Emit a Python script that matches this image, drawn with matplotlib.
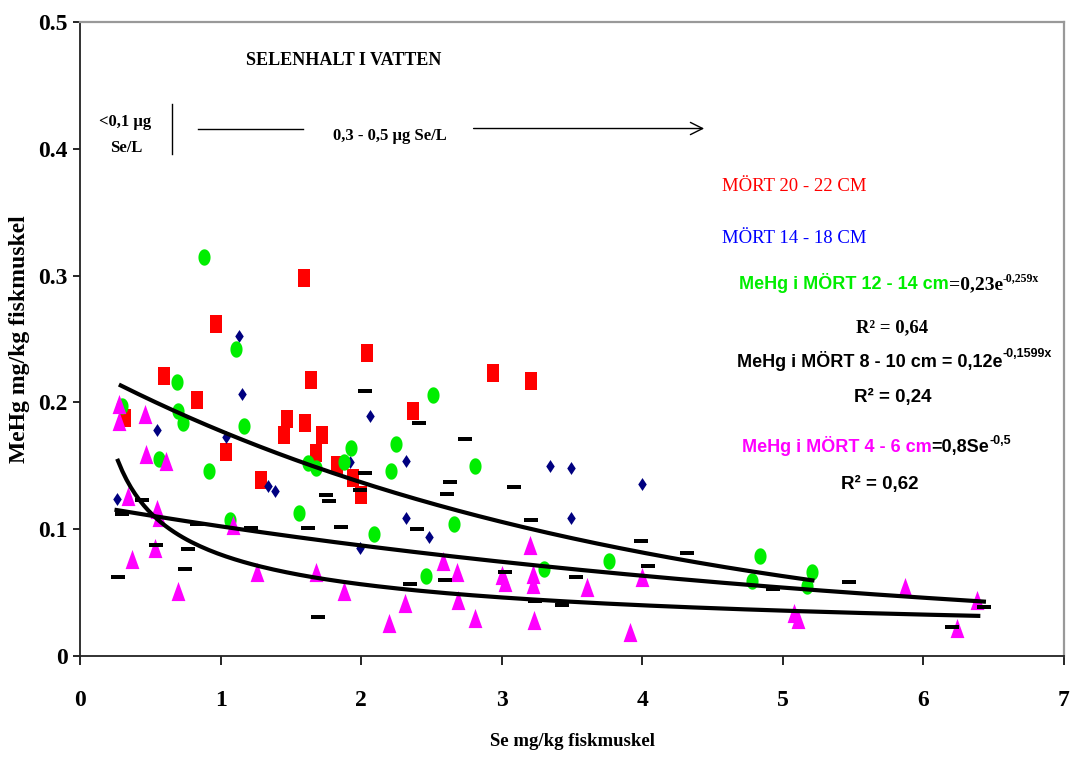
import numpy as np
import matplotlib
matplotlib.use("Agg")
import matplotlib.pyplot as plt

# MÖRT 20-22 cm (red squares)
red_x = [0.32, 0.60, 0.83, 0.97, 1.04, 1.29, 1.45, 1.47, 1.59, 1.60, 1.64, 1.68, 1.72, 1.83, 1.94, 2.00, 2.04, 2.37, 2.94, 3.21]
red_y = [0.188, 0.221, 0.202, 0.262, 0.161, 0.139, 0.174, 0.187, 0.298, 0.184, 0.218, 0.160, 0.174, 0.151, 0.140, 0.127, 0.239, 0.193, 0.223, 0.217]

# MÖRT 14-18 cm (navy diamonds)
navy_x = [0.26, 0.55, 1.04, 1.13, 1.15, 1.34, 1.39, 1.92, 1.99, 2.06, 2.32, 2.32, 2.48, 3.34, 3.49, 3.49, 4.00]
navy_y = [0.124, 0.178, 0.173, 0.252, 0.207, 0.134, 0.130, 0.153, 0.085, 0.189, 0.154, 0.109, 0.094, 0.150, 0.148, 0.109, 0.136]

# MÖRT 12-14 cm (green circles)
green_x = [0.30, 0.56, 0.69, 0.70, 0.73, 0.88, 0.92, 1.07, 1.11, 1.17, 1.56, 1.62, 1.68, 1.88, 1.93, 2.09, 2.21, 2.25,
           2.46, 2.51, 2.66, 2.81, 3.30, 3.76, 4.78, 4.84, 5.17, 5.21]
green_y = [0.197, 0.155, 0.216, 0.193, 0.184, 0.315, 0.146, 0.107, 0.242, 0.181, 0.113, 0.152, 0.148, 0.153, 0.164, 0.096, 0.146, 0.167,
           0.063, 0.206, 0.104, 0.150, 0.069, 0.075, 0.059, 0.079, 0.055, 0.0665]

# MÖRT 8-10 cm (black dashes)
black_x = [0.27, 0.30, 0.44, 0.54, 0.75, 0.77, 0.83, 1.22, 1.62, 1.69, 1.75, 1.77, 1.86, 1.99, 2.03, 2.03, 2.35, 2.40,
           2.41, 2.60, 2.61, 2.63, 2.74, 3.02, 3.09, 3.21, 3.24, 3.43, 3.53, 3.99, 4.04, 4.32, 4.93, 5.47, 6.20, 6.43]
black_y = [0.0625, 0.112, 0.123, 0.0875, 0.069, 0.084, 0.104, 0.101, 0.101, 0.031, 0.127, 0.122, 0.102, 0.131, 0.144, 0.209, 0.057, 0.100,
           0.184, 0.060, 0.128, 0.137, 0.171, 0.066, 0.133, 0.107, 0.043, 0.040, 0.062, 0.091, 0.071, 0.081, 0.053, 0.058, 0.023, 0.039]

# MÖRT 4-6 cm (magenta triangles)
mag_x = [0.28, 0.28, 0.34, 0.37, 0.46, 0.47, 0.53, 0.55, 0.56, 0.61, 0.70, 1.09, 1.26, 1.68, 1.88, 2.20, 2.31, 2.58,
         2.68, 2.69, 2.81, 3.00, 3.02, 3.20, 3.22, 3.22, 3.23, 3.61, 3.91, 4.00, 5.08, 5.11, 5.87, 6.24, 6.38]
mag_y = [0.199, 0.185, 0.126, 0.0765, 0.191, 0.159, 0.085, 0.116, 0.110, 0.154, 0.0515, 0.103, 0.066, 0.066, 0.0515, 0.026, 0.042, 0.075,
         0.0665, 0.044, 0.030, 0.064, 0.0586, 0.0875, 0.065, 0.0565, 0.028, 0.0547, 0.019, 0.0625, 0.034, 0.029, 0.0547, 0.022, 0.044]

# trendline equations from the chart
green_a, green_b, green_rng = 0.23, -0.259, (0.29, 5.21)
black_a, black_b, black_rng = 0.12, -0.1599, (0.26, 6.43)
mag_a, mag_p, mag_rng = 0.08, -0.5, (0.27, 6.39)

x_ticks = [0, 1, 2, 3, 4, 5, 6, 7]
y_ticks = [0, 0.1, 0.2, 0.3, 0.4, 0.5]
y_tick_labels = ["0", "0.1", "0.2", "0.3", "0.4", "0.5"]

SERIF = "Liberation Serif"
SANS = "Liberation Sans"

fig = plt.figure(figsize=(10.74, 7.6), dpi=100)
ax = fig.add_axes([80 / 1074, 104 / 760, 984 / 1074, 634 / 760])

# marker shapes (stretched like in the original)
rect = [(-0.34, -0.5), (0.34, -0.5), (0.34, 0.5), (-0.34, 0.5)]
t = np.linspace(0, 2 * np.pi, 40)
ellipse = list(zip(0.37 * np.cos(t), 0.5 * np.sin(t)))
diamond = [(0, -0.5), (0.33, 0), (0, 0.5), (-0.33, 0)]
tri = [(-0.36, -0.5), (0.36, -0.5), (0, 0.5)]
dash = [(-0.5, -0.15), (0.5, -0.15), (0.5, 0.15), (-0.5, 0.15)]

ax.plot(red_x, red_y, ls="none", marker=rect, ms=12.3, color="#ff0000", mew=0)
ax.plot(navy_x, navy_y, ls="none", marker=diamond, ms=9.3, color="#000080", mew=0)
ax.plot(green_x, green_y, ls="none", marker=ellipse, ms=11.8, color="#00ee00", mew=0)
ax.plot(mag_x, mag_y, ls="none", marker=tri, ms=13.8, color="#ff00ff", mew=0)
ax.plot(black_x, black_y, ls="none", marker=dash, ms=10, color="black", mew=0)

# trendlines
xg = np.linspace(*green_rng, 200)
ax.plot(xg, green_a * np.exp(green_b * xg), color="black", lw=3)
xb = np.linspace(*black_rng, 200)
ax.plot(xb, black_a * np.exp(black_b * xb), color="black", lw=3)
xm = np.linspace(*mag_rng, 200)
ax.plot(xm, mag_a * xm ** mag_p, color="black", lw=3)

ax.set_xlim(0, 7)
ax.set_ylim(0, 0.5)
ax.set_xticks(x_ticks)
ax.set_xticklabels([str(v) for v in x_ticks], fontfamily=SERIF, fontweight="bold", fontsize=17)
ax.set_yticks(y_ticks)
ax.set_yticklabels(y_tick_labels, fontfamily=SERIF, fontweight="bold", fontsize=17)
ax.tick_params(axis="x", direction="out", length=6.5, width=1.2, pad=18)
ax.tick_params(axis="y", direction="out", length=5, width=1.2, pad=4)
for side in ["left", "bottom"]:
    ax.spines[side].set_color("#222222")
    ax.spines[side].set_linewidth(1.3)
for side in ["top", "right"]:
    ax.spines[side].set_color("#999999")
    ax.spines[side].set_linewidth(1.6)

ax.set_xlabel("Se mg/kg fiskmuskel", fontfamily=SERIF, fontweight="bold", fontsize=13.5, labelpad=16)
ax.set_ylabel("MeHg mg/kg fiskmuskel", fontfamily=SERIF, fontweight="bold", fontsize=17, labelpad=6)

# selenium in water annotation
ax.text(1.18, 0.470, "SELENHALT I VATTEN", fontfamily=SERIF, fontweight="bold", fontsize=13, va="center", ha="left")
ax.text(0.32, 0.421, "<0,1 µg", fontfamily=SERIF, fontweight="bold", fontsize=12, va="center", ha="center")
ax.text(0.33, 0.401, "Se/L", fontfamily=SERIF, fontweight="bold", fontsize=12, va="center", ha="center")
ax.plot([0.654, 0.654], [0.396, 0.435], color="black", lw=1)
ax.plot([0.839, 1.586], [0.416, 0.416], color="black", lw=1)
ax.text(2.205, 0.410, "0,3 - 0,5 µg Se/L", fontfamily=SERIF, fontweight="bold", fontsize=12, va="center", ha="center")
ax.annotate("", xy=(4.46, 0.416), xytext=(2.78, 0.416),
            arrowprops=dict(arrowstyle="->", color="black", lw=1, mutation_scale=22))

# legend-like labels
ax.text(4.566, 0.370, "MÖRT 20 - 22 CM", fontfamily=SERIF, fontsize=13.5, color="#ff0000", va="center")
ax.text(4.566, 0.329, "MÖRT 14 - 18 CM", fontfamily=SERIF, fontsize=13.5, color="#0000ff", va="center")


def chain(prev, s, **kw):
    return ax.annotate(s, xy=(1, 0), xycoords=prev, va="bottom", ha="left", **kw)


def sup(prev, s, **kw):
    return ax.annotate(s, xy=(1, 0.55), xycoords=prev, va="bottom", ha="left", **kw)


t1 = ax.text(4.687, 0.294, "MeHg i MÖRT 12 - 14 cm", fontfamily=SANS, fontweight="bold", fontsize=13,
             color="#00ee00", va="center")
t2 = chain(t1, "=0,23e", fontfamily=SERIF, fontweight="bold", fontsize=14, color="black")
sup(t2, "-0,259x", fontfamily=SERIF, fontweight="bold", fontsize=8.5, color="black")
ax.text(5.78, 0.259, "R² = 0,64", fontfamily=SERIF, fontweight="bold", fontsize=13.5, ha="center", va="center")

t3 = ax.text(4.673, 0.233, "MeHg i MÖRT 8 - 10 cm = 0,12e", fontfamily=SANS, fontweight="bold", fontsize=13,
             color="black", va="center")
sup(t3, "-0,1599x", fontfamily=SANS, fontweight="bold", fontsize=9, color="black")
ax.text(5.78, 0.2035, "R² = 0,24", fontfamily=SANS, fontweight="bold", fontsize=13.5, ha="center", va="center")

t4 = ax.text(4.708, 0.1656, "MeHg i MÖRT 4 - 6 cm", fontfamily=SANS, fontweight="bold", fontsize=13,
             color="#ff00ff", va="center")
t5 = chain(t4, "=0,8Se", fontfamily=SANS, fontweight="bold", fontsize=13, color="black")
sup(t5, "-0,5", fontfamily=SANS, fontweight="bold", fontsize=9, color="black")
ax.text(5.69, 0.1356, "R² = 0,62", fontfamily=SANS, fontweight="bold", fontsize=13.5, ha="center", va="center")

fig.savefig("out.png", dpi=100)
